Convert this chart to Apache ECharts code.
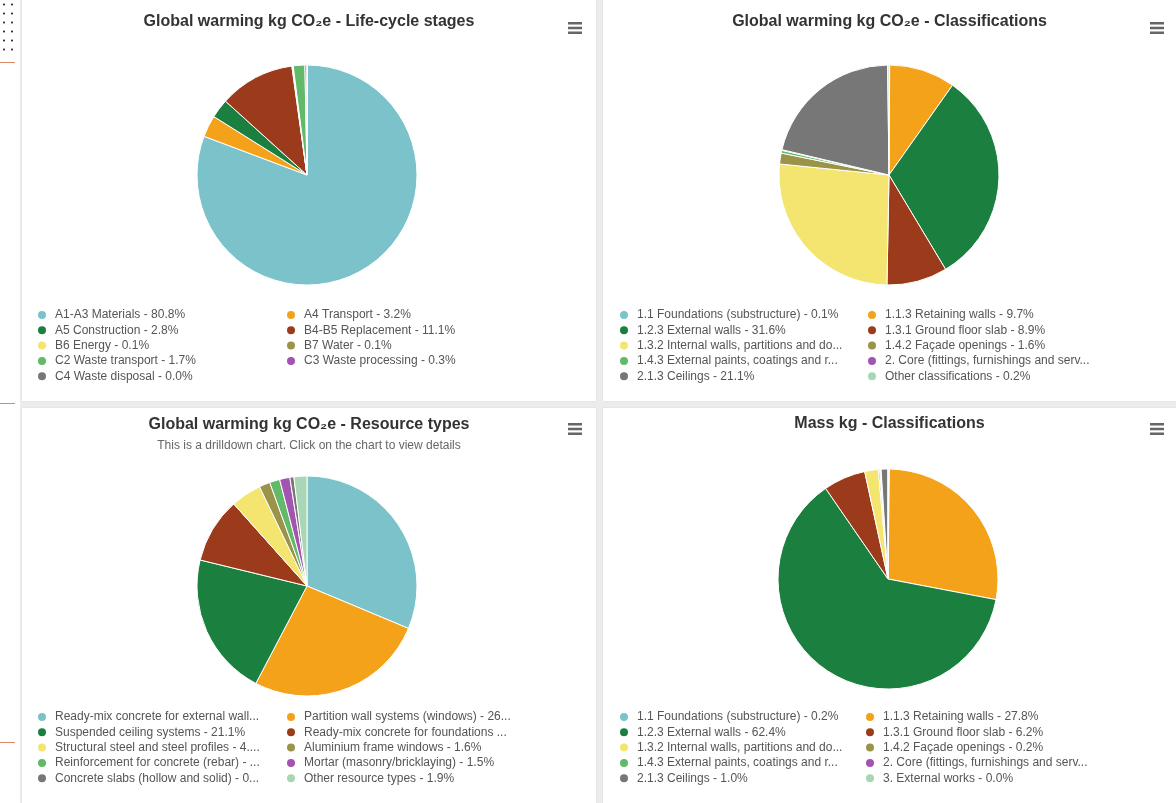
<!DOCTYPE html>
<html>
<head>
<meta charset="utf-8">
<title>Global warming dashboard</title>
<script src="https://cdn.jsdelivr.net/npm/echarts@6/dist/echarts.min.js"></script>
<style>
  html, body { margin: 0; padding: 0; }
  body { width: 1176px; height: 803px; background: #ececec; position: relative; overflow: hidden; }
  .strip { position: absolute; left: 0; top: 0; width: 20px; height: 803px; background: #fff; }
  .dots { position: absolute; left: 0; top: 0; width: 18px; height: 52px;
    background-image: radial-gradient(circle, #333 0.8px, transparent 1.3px); background-size: 8px 9px; }
  .rule { position: absolute; left: 0; width: 15px; height: 1px; background: #d98a66; }
  .panel { position: absolute; background: #fff; box-shadow: 0 0 2px rgba(0, 0, 0, 0.08); }
</style>
</head>
<body>
<div class="strip">
  <div class="dots"></div>
  <div class="rule" style="top:62px"></div>
  <div class="rule" style="top:403px"></div>
  <div class="rule" style="top:742px"></div>
</div>
<div id="lifecycle" class="panel" style="left:22px;top:0;width:574px;height:401px"></div>
<div id="classes" class="panel" style="left:603px;top:0;width:573px;height:401px"></div>
<div id="resources" class="panel" style="left:22px;top:408px;width:574px;height:395px"></div>
<div id="mass" class="panel" style="left:603px;top:408px;width:573px;height:395px"></div>

<script>
// data (percent shares read from the legends / slice angles)
const lifecycleNames = ['A1-A3 Materials', 'A4 Transport', 'A5 Construction', 'B4-B5 Replacement', 'B6 Energy',
  'B7 Water', 'C2 Waste transport', 'C3 Waste processing', 'C4 Waste disposal']
const lifecycleValues = [80.8, 3.2, 2.8, 11.1, 0.1, 0.1, 1.7, 0.3, 0.0]

const gwpClassNames = ['1.1 Foundations (substructure)', '1.1.3 Retaining walls', '1.2.3 External walls',
  '1.3.1 Ground floor slab', '1.3.2 Internal walls, partitions and doors', '1.4.2 Façade openings',
  '1.4.3 External paints, coatings and renders', '2. Core (fittings, furnishings and services)',
  '2.1.3 Ceilings', 'Other classifications']
const gwpClassValues = [0.1, 9.7, 31.6, 8.9, 26.3, 1.6, 0.4, 0.1, 21.1, 0.2]

const resourceNames = ['Ready-mix concrete for external walls and floors', 'Partition wall systems (windows)',
  'Suspended ceiling systems', 'Ready-mix concrete for foundations and internal floors',
  'Structural steel and steel profiles', 'Aluminium frame windows', 'Reinforcement for concrete (rebar)',
  'Mortar (masonry/bricklaying)', 'Concrete slabs (hollow and solid)', 'Other resource types']
const resourceValues = [31.3, 26.4, 21.1, 9.6, 4.5, 1.6, 1.5, 1.5, 0.6, 1.9]

const massNames = ['1.1 Foundations (substructure)', '1.1.3 Retaining walls', '1.2.3 External walls',
  '1.3.1 Ground floor slab', '1.3.2 Internal walls, partitions and doors', '1.4.2 Façade openings',
  '1.4.3 External paints, coatings and renders', '2. Core (fittings, furnishings and services)',
  '2.1.3 Ceilings', '3. External works']
const massValues = [0.2, 27.8, 62.4, 6.2, 2.0, 0.2, 0.1, 0.1, 1.0, 0.0]

const palette = ['#7cc2cb', '#f5a21b', '#1b7f3f', '#9c3b1b', '#f3e56f', '#9a9348', '#62b96a', '#a354b3', '#777777', '#a9d6b4']

const font = "'Liberation Sans', Arial, sans-serif"
const menuIcon = 'path://M0,0H14V2.4H0Z M0,4.8H14V7.2H0Z M0,9.6H14V12H0Z'

// one pie panel: title, optional subtitle, two legend columns
const makePie = (id, title, subtitle, names, values, layout) => {
  const chart = echarts.init(document.getElementById(id))
  const valueOf = {}
  names.forEach((n, i) => { valueOf[n] = values[i] })

  const legendBase = {
    orient: 'vertical',
    icon: 'circle',
    padding: 0,
    itemWidth: 16,
    itemHeight: 10,
    itemGap: 3.3,
    top: layout.legendTop,
    selectedMode: false,
    formatter: (name) => `${name} - ${valueOf[name].toFixed(1)}%`,
    textStyle: {
      fontFamily: font,
      fontSize: 12,
      color: '#555',
      lineHeight: 12,
      width: 209,
      overflow: 'truncate',
      ellipsis: '...',
    },
  }

  chart.setOption({
    animation: false,
    color: palette,
    title: {
      text: title,
      subtext: subtitle,
      left: 'center',
      top: layout.titleTop,
      itemGap: 7,
      textStyle: { fontFamily: font, fontSize: 16, fontWeight: 'bold', color: '#333' },
      subtextStyle: { fontFamily: font, fontSize: 12, color: '#666' },
    },
    toolbox: {
      right: layout.menuRight,
      top: layout.menuTop,
      padding: 0,
      itemSize: 14,
      iconStyle: { color: '#666', borderWidth: 0 },
      feature: { myMenu: { show: true, title: ' ', icon: menuIcon, onclick: () => {} } },
    },
    legend: [
      { ...legendBase, left: layout.legendLeft[0], data: names.filter((_, i) => i % 2 === 0) },
      { ...legendBase, left: layout.legendLeft[1], data: names.filter((_, i) => i % 2 === 1) },
    ],
    series: [
      {
        type: 'pie',
        radius: 110,
        center: layout.center,
        startAngle: 90,
        silent: true,
        label: { show: false },
        labelLine: { show: false },
        itemStyle: { borderColor: '#fff', borderWidth: 1 },
        data: names.map((n, i) => ({ name: n, value: values[i] })),
      },
    ],
  })
  return chart
}

makePie('lifecycle', 'Global warming kg CO₂e - Life-cycle stages', '', lifecycleNames, lifecycleValues,
  { titleTop: 9, menuTop: 22, menuRight: 14, legendTop: 309, legendLeft: [14, 263], center: [285, 175] })
makePie('classes', 'Global warming kg CO₂e - Classifications', '', gwpClassNames, gwpClassValues,
  { titleTop: 9, menuTop: 22, menuRight: 12, legendTop: 309, legendLeft: [15, 263], center: [286, 175] })
makePie('resources', 'Global warming kg CO₂e - Resource types',
  'This is a drilldown chart. Click on the chart to view details', resourceNames, resourceValues,
  { titleTop: 4, menuTop: 15, menuRight: 14, legendTop: 303, legendLeft: [14, 263], center: [285, 178] })
makePie('mass', 'Mass kg - Classifications', '', massNames, massValues,
  { titleTop: 3, menuTop: 15, menuRight: 12, legendTop: 303, legendLeft: [15, 261], center: [285, 171] })
</script>
</body>
</html>
